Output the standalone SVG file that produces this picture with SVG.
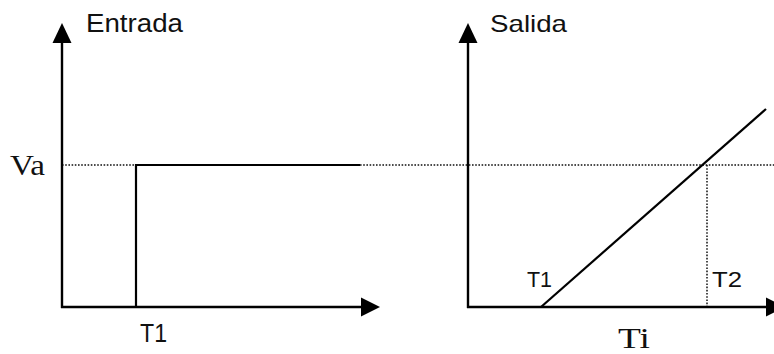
<svg xmlns="http://www.w3.org/2000/svg" width="774" height="354" viewBox="0 0 774 354">
  <style>
    .axis { stroke: #000; stroke-width: 2.4; fill: none; }
    .curve { stroke: #000; stroke-width: 2.2; fill: none; }
    .dots { stroke: #111; stroke-width: 1.5; stroke-dasharray: 1.6 1.6; fill: none; }
    .head { fill: #000; }
    .sans { font-family: "Liberation Sans", Arial, sans-serif; fill: #111; }
    .serif { font-family: "Liberation Serif", "Times New Roman", serif; fill: #111; }
  </style>
  <rect width="774" height="354" fill="#fff"/>

  <!-- Va reference level across both plots -->
  <g id="reference-level">
    <line class="dots" x1="62" y1="165" x2="136" y2="165"/>
    <line class="dots" x1="360" y1="165" x2="774" y2="165"/>
    <line class="dots" x1="707" y1="165" x2="707" y2="307"/>
  </g>

  <!-- Input plot -->
  <g id="input-axes">
    <line class="axis" x1="62" y1="308" x2="62" y2="40"/>
    <polygon class="head" points="62,23 52.5,43 71.5,43"/>
    <line class="axis" x1="61" y1="307" x2="364" y2="307"/>
    <polygon class="head" points="380,307 361,297.5 361,316.5"/>
  </g>
  <g id="input-step">
    <polyline class="curve" points="136,307 136,165 360,165"/>
  </g>

  <!-- Output plot -->
  <g id="output-axes">
    <line class="axis" x1="468" y1="308" x2="468" y2="40"/>
    <polygon class="head" points="468,23 458.5,43 477.5,43"/>
    <line class="axis" x1="467" y1="307" x2="770" y2="307"/>
    <polygon class="head" points="785,307 766,297.5 766,316.5"/>
  </g>
  <g id="output-ramp">
    <line class="curve" x1="541" y1="307" x2="766" y2="109"/>
  </g>

  <!-- Labels -->
  <g id="labels">
    <text class="sans" x="86" y="32" font-size="25" textLength="97" lengthAdjust="spacingAndGlyphs">Entrada</text>
    <text class="sans" x="490" y="32" font-size="24" textLength="77" lengthAdjust="spacingAndGlyphs">Salida</text>
    <text class="serif" x="10" y="175" font-size="29" textLength="35" lengthAdjust="spacingAndGlyphs">Va</text>
    <text class="sans" x="140" y="342" font-size="25" textLength="27" lengthAdjust="spacingAndGlyphs">T1</text>
    <text class="sans" x="527" y="287" font-size="22" textLength="25" lengthAdjust="spacingAndGlyphs">T1</text>
    <text class="sans" x="712" y="287" font-size="22" textLength="30" lengthAdjust="spacingAndGlyphs">T2</text>
    <text class="serif" x="618" y="348" font-size="29" textLength="32" lengthAdjust="spacingAndGlyphs">Ti</text>
  </g>
</svg>
